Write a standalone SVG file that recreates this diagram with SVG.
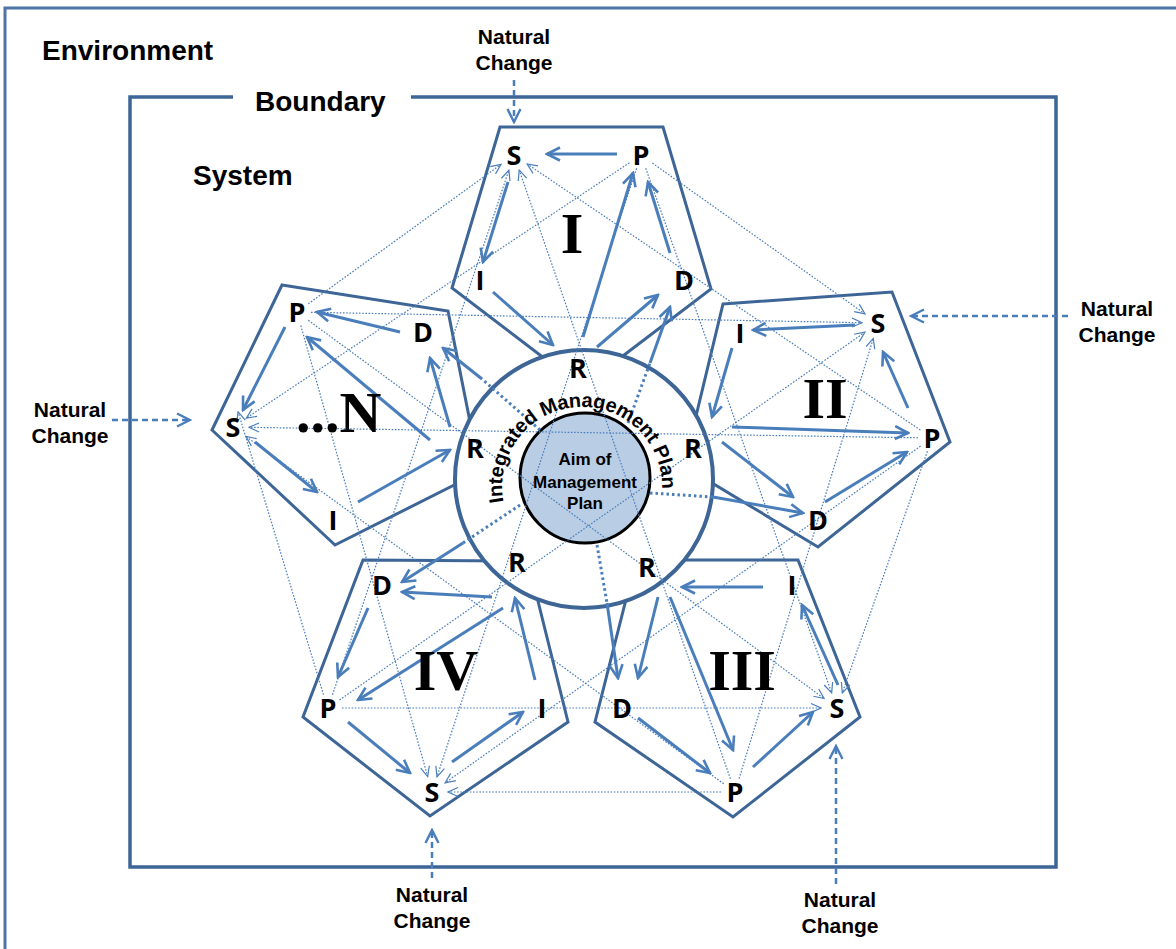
<svg xmlns="http://www.w3.org/2000/svg" width="1176" height="949" viewBox="0 0 1176 949">
<defs>
<style>
.pent{fill:none;stroke:#3d6596;stroke-width:3;stroke-linejoin:miter}
.sa{stroke:#4a7ebb;stroke-width:3;fill:none;marker-end:url(#ah)}
.dl{stroke:#4a7ebb;stroke-width:1.2;stroke-dasharray:1.6 1.6;fill:none;marker-end:url(#sh)}
.td{stroke:#4a7ebb;stroke-width:3;stroke-dasharray:2.5 3;fill:none}
.nc{stroke:#4a7ebb;stroke-width:2.5;stroke-dasharray:6 4;fill:none;marker-end:url(#nh)}
.lbl{font-family:"Liberation Sans",Arial,sans-serif;font-weight:bold;fill:#000}
.big{font-size:28px}
.nat{font-size:21px;text-anchor:middle}
.node{font-family:"Open Sans","Noto Sans",sans-serif;font-weight:bold;font-size:27px;text-anchor:middle;fill:#000}
.rom{font-family:"Liberation Serif","Times New Roman",serif;font-weight:bold;font-size:58px;fill:#000}
.mid{text-anchor:middle}
</style>
<marker id="ah" viewBox="0 0 16 16" refX="14" refY="8" markerWidth="16" markerHeight="16" markerUnits="userSpaceOnUse" orient="auto"><path d="M1,1.5 L14,8 L1,14.5" fill="none" stroke="#4a7ebb" stroke-width="2.6"/></marker>
<marker id="sh" viewBox="0 0 12 12" refX="11" refY="6" markerWidth="12" markerHeight="12" markerUnits="userSpaceOnUse" orient="auto"><path d="M1,1.5 L11,6 L1,10.5" fill="none" stroke="#4a7ebb" stroke-width="1.2"/></marker>
<marker id="nh" viewBox="0 0 16 16" refX="14" refY="8" markerWidth="16" markerHeight="16" markerUnits="userSpaceOnUse" orient="auto"><path d="M1,1.5 L14,8 L1,14.5" fill="none" stroke="#4a7ebb" stroke-width="2.4"/></marker>
<path id="arc" d="M503.5,502 A80,80 0 1 1 662,490"/>
</defs>
<rect width="1176" height="949" fill="#fff"/>

<g id="environment">
<rect x="5" y="8" width="1200" height="1000" fill="none" stroke="#4f74a8" stroke-width="3"/>
<text class="lbl big" x="42" y="60">Environment</text>
</g>

<g id="boundary">
<path d="M233,97 L130,97 L130,867 L1056,867 L1056,97 L411,97" fill="none" stroke="#3d6596" stroke-width="3.5"/>
<text class="lbl big" x="255" y="111">Boundary</text>
<text class="lbl big" x="193" y="185">System</text>
</g>

<g id="pentagon-I"><polygon class="pent" points="500,127 663,127 711,289 582,387 452,288"/></g>
<g id="pentagon-II"><polygon class="pent" points="723,304 892,292 950,442 818,547 684,466"/></g>
<g id="pentagon-III"><polygon class="pent" points="636,560 798,560 860,717 733,817 595,722"/></g>
<g id="pentagon-IV"><polygon class="pent" points="363,560 528,561 568,722 430,816 303,717"/></g>
<g id="pentagon-N"><polygon class="pent" points="282,285 448,311 480,472 335,545 212,430"/></g>

<g id="plan">
<circle cx="584" cy="479" r="129" fill="#fff" stroke="#3d6596" stroke-width="4"/>
<circle cx="585" cy="478" r="65" fill="#b9cde5" stroke="#000" stroke-width="3"/>
</g>

<g id="connectors">
<line class="dl" x1="652.4" y1="163.1" x2="864.9" y2="313.8"/>
<line class="dl" x1="645.7" y1="168.2" x2="831.7" y2="692.9"/>
<line class="dl" x1="636.6" y1="168.3" x2="437" y2="776.8"/>
<line class="dl" x1="629.4" y1="162.8" x2="246.3" y2="418.1"/>
<line class="dl" x1="920.4" y1="430.1" x2="527.2" y2="164"/>
<line class="dl" x1="927.4" y1="451.2" x2="842.3" y2="692.9"/>
<line class="dl" x1="920.6" y1="446.1" x2="445.1" y2="782.8"/>
<line class="dl" x1="918" y1="437.8" x2="249" y2="427.3"/>
<line class="dl" x1="730.4" y1="778.8" x2="519.2" y2="170.1"/>
<line class="dl" x1="739.1" y1="778.6" x2="873.3" y2="338.3"/>
<line class="dl" x1="721" y1="792" x2="448" y2="792"/>
<line class="dl" x1="723.7" y1="783.8" x2="245.9" y2="436.4"/>
<line class="dl" x1="332.5" y1="694.7" x2="508.9" y2="170.2"/>
<line class="dl" x1="339.5" y1="700" x2="864.9" y2="332.2"/>
<line class="dl" x1="342" y1="708" x2="821" y2="708"/>
<line class="dl" x1="323.5" y1="694.7" x2="238.1" y2="411.8"/>
<line class="dl" x1="308.3" y1="303.8" x2="501" y2="164.4"/>
<line class="dl" x1="311" y1="312.3" x2="862" y2="322.7"/>
<line class="dl" x1="308.3" y1="320.3" x2="824.1" y2="698.5"/>
<line class="dl" x1="300.8" y1="325.5" x2="427.7" y2="776.6"/>
<line class="td" x1="628" y1="423" x2="650" y2="363"/>
<line class="td" x1="650" y1="493" x2="713" y2="497"/>
<line class="td" x1="597" y1="545" x2="607" y2="603"/>
<line class="td" x1="520" y1="505" x2="463" y2="543"/>
<line class="td" x1="540" y1="430" x2="482" y2="379"/>
<line class="sa" x1="617" y1="154" x2="547" y2="154"/>
<line class="sa" x1="508" y1="182" x2="483" y2="262"/>
<line class="sa" x1="493" y1="292" x2="553" y2="345"/>
<line class="sa" x1="583" y1="337" x2="633" y2="173"/>
<line class="sa" x1="670" y1="253" x2="648" y2="182"/>
<line class="sa" x1="597" y1="347" x2="658" y2="295"/>
<line class="sa" x1="650" y1="363" x2="670" y2="307"/>
<line class="sa" x1="855" y1="325" x2="753" y2="330"/>
<line class="sa" x1="732" y1="348" x2="712" y2="417"/>
<line class="sa" x1="732" y1="427" x2="908" y2="433"/>
<line class="sa" x1="908" y1="408" x2="883" y2="352"/>
<line class="sa" x1="722" y1="442" x2="793" y2="497"/>
<line class="sa" x1="825" y1="502" x2="907" y2="452"/>
<line class="sa" x1="713" y1="497" x2="803" y2="513"/>
<line class="sa" x1="763" y1="587" x2="682" y2="587"/>
<line class="sa" x1="838" y1="685" x2="802" y2="605"/>
<line class="sa" x1="753" y1="767" x2="813" y2="712"/>
<line class="sa" x1="638" y1="718" x2="710" y2="773"/>
<line class="sa" x1="670" y1="597" x2="733" y2="750"/>
<line class="sa" x1="658" y1="597" x2="638" y2="678"/>
<line class="sa" x1="607" y1="603" x2="618" y2="678"/>
<line class="sa" x1="463" y1="543" x2="402" y2="582"/>
<line class="sa" x1="492" y1="597" x2="402" y2="592"/>
<line class="sa" x1="368" y1="608" x2="338" y2="677"/>
<line class="sa" x1="503" y1="608" x2="358" y2="700"/>
<line class="sa" x1="348" y1="722" x2="410" y2="773"/>
<line class="sa" x1="452" y1="762" x2="523" y2="712"/>
<line class="sa" x1="535" y1="680" x2="515" y2="598"/>
<line class="sa" x1="400" y1="332" x2="317" y2="312"/>
<line class="sa" x1="285" y1="327" x2="243" y2="410"/>
<line class="sa" x1="255" y1="442" x2="317" y2="492"/>
<line class="sa" x1="358" y1="502" x2="450" y2="450"/>
<line class="sa" x1="430" y1="440" x2="307" y2="337"/>
<line class="sa" x1="450" y1="427" x2="430" y2="358"/>
<line class="sa" x1="482" y1="379" x2="443" y2="348"/>
<line class="nc" x1="514" y1="80" x2="514" y2="122"/>
<line class="nc" x1="1068" y1="316" x2="911" y2="316"/>
<line class="nc" x1="112" y1="420" x2="190" y2="420"/>
<line class="nc" x1="432" y1="878" x2="432" y2="830"/>
<line class="nc" x1="836" y1="884" x2="836" y2="746"/>
</g>

<g id="plan-text">
<text class="lbl" font-size="20"><textPath href="#arc" textLength="268" lengthAdjust="spacing">Integrated Management Plan</textPath></text>
<text class="lbl" font-size="17" text-anchor="middle" x="585" y="465">Aim of</text>
<text class="lbl" font-size="17" text-anchor="middle" x="585" y="488">Management</text>
<text class="lbl" font-size="17" text-anchor="middle" x="585" y="509">Plan</text>
</g>

<g id="nodes-I">
<text class="node" x="514" y="165">S</text><text class="node" x="641" y="165">P</text>
<text class="node" x="480" y="290">I</text><text class="node" x="684" y="290">D</text>
<text class="node" x="578" y="378">R</text>
<text class="rom mid" x="572" y="253">I</text>
</g>
<g id="nodes-II">
<text class="node" x="878" y="333">S</text><text class="node" x="740" y="343">I</text>
<text class="node" x="932" y="448">P</text><text class="node" x="818" y="530">D</text>
<text class="node" x="693" y="458">R</text>
<text class="rom mid" x="825" y="418">II</text>
</g>
<g id="nodes-III">
<text class="node" x="792" y="595">I</text><text class="node" x="837" y="718">S</text>
<text class="node" x="735" y="802">P</text><text class="node" x="622" y="718">D</text>
<text class="node" x="647" y="577">R</text>
<text class="rom mid" x="742" y="690">III</text>
</g>
<g id="nodes-IV">
<text class="node" x="382" y="595">D</text><text class="node" x="328" y="718">P</text>
<text class="node" x="432" y="802">S</text><text class="node" x="542" y="718">I</text>
<text class="node" x="517" y="572">R</text>
<text class="rom mid" x="446" y="690">IV</text>
</g>
<g id="nodes-N">
<text class="node" x="297" y="322">P</text><text class="node" x="423" y="342">D</text>
<text class="node" x="233" y="437">S</text><text class="node" x="333" y="530">I</text>
<text class="node" x="475" y="458">R</text>
<text class="rom" x="296" y="432">...N</text>
</g>

<g id="natural-change">
<text class="lbl nat" x="514" y="44">Natural</text><text class="lbl nat" x="514" y="70">Change</text>
<text class="lbl nat" x="1117" y="316">Natural</text><text class="lbl nat" x="1117" y="342">Change</text>
<text class="lbl nat" x="70" y="417">Natural</text><text class="lbl nat" x="70" y="443">Change</text>
<text class="lbl nat" x="432" y="902">Natural</text><text class="lbl nat" x="432" y="928">Change</text>
<text class="lbl nat" x="840" y="907">Natural</text><text class="lbl nat" x="840" y="933">Change</text>
</g>
</svg>
